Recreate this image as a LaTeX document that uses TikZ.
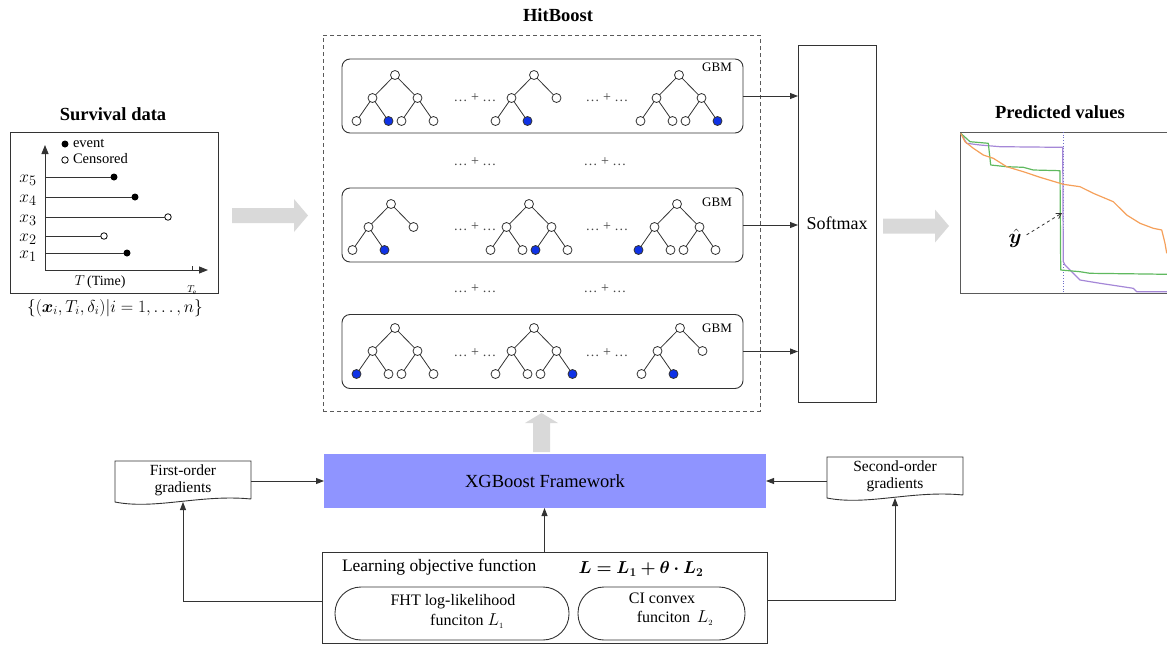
\documentclass[tikz,border=0pt]{standalone}
\usepackage{amsmath,bm}
\usepackage{fontspec}
\setmainfont{Liberation Serif}
\usetikzlibrary{arrows.meta,calc}

\definecolor{ln}{RGB}{51,51,51}
\definecolor{arrgray}{RGB}{217,217,217}
\definecolor{xgbblue}{RGB}{143,148,255}
\definecolor{leafblue}{RGB}{15,50,230}
\definecolor{dotgray}{RGB}{70,70,70}
\definecolor{dashgray}{RGB}{90,90,90}
\definecolor{corange}{RGB}{245,160,90}
\definecolor{cgreen}{RGB}{95,185,95}
\definecolor{cpurple}{RGB}{165,135,215}
\definecolor{vline}{RGB}{110,110,200}

\newcommand\fsz[2]{\fontsize{#1}{#2}\selectfont}

\tikzset{
  every node/.style={inner sep=0pt, outer sep=0pt},
  tn/.style={circle, draw=ln, line width=0.8pt, fill=white, minimum size=9pt},
  tb/.style={tn, fill=leafblue},
  tl/.style={draw=ln, line width=0.8pt},
  plain/.style={draw=ln, line width=0.9pt},
  arr/.style={draw=ln, line width=0.9pt, -{Triangle[length=8pt,width=6pt]}},
  gbmbox/.style={plain, rounded corners=8pt, minimum width=401pt, minimum height=74pt},
  gbmlabel/.style={font=\fsz{13}{15}},
  dots/.style={text=dotgray, font=\fsz{14}{16}},
  title/.style={font=\bfseries\fsz{18.5}{22}},
  evt/.style={circle, fill=black, minimum size=7pt},
  cen/.style={circle, draw=black, line width=0.8pt, fill=white, minimum size=6.5pt},
  doc/.style={minimum width=136pt, minimum height=38pt, align=center, font=\fsz{15.5}{17}},
  pill/.style={plain, rounded corners=26pt, minimum height=53pt},
  curve/.style={line width=1.2pt, line join=round},
}

% a leaf: name, x, y, position index, index of the highlighted leaf
\newcommand\leaf[5]{\ifnum#4=#5\relax\node[tb] (#1) at (#2,#3) {};\else\node[tn] (#1) at (#2,#3) {};\fi}

% a small regression tree: prefix, root x, root y, full (1) or left-only (0), highlighted leaf
\newcommand\gbmtree[5]{%
  \node[tn] (#1r) at (#2,#3) {};
  \node[tn] (#1a) at (#2-22.5,#3+23) {};
  \node[tn] (#1b) at (#2+22.5,#3+23) {};
  \leaf{#1l1}{#2-38.5}{#3+46}{1}{#5}
  \leaf{#1l2}{#2-6.5}{#3+46}{2}{#5}
  \draw[tl] (#1r)--(#1a) (#1r)--(#1b) (#1a)--(#1l1) (#1a)--(#1l2);
  \ifnum#4=1\relax
    \leaf{#1l3}{#2+6.5}{#3+46}{3}{#5}
    \leaf{#1l4}{#2+38.5}{#3+46}{4}{#5}
    \draw[tl] (#1b)--(#1l3) (#1b)--(#1l4);
  \fi
}

\begin{document}
\begin{tikzpicture}[x=1pt,y=-1pt]
\useasboundingbox (0,0) rectangle (1167,651);

% ---------------- survival data ----------------
\node[title] (survtitle) at (113,114) {Survival data};
\node[plain, minimum width=208pt, minimum height=161pt] (survbox) at (114,212.5) {};
\coordinate (orig) at (45,270);
\coordinate (ytop) at (45,145);
\coordinate (xend) at (208,270);
\draw[draw=ln, line width=0.9pt, -{Triangle[length=9pt,width=7pt]}] (orig) -- (ytop);
\draw[draw=ln, line width=0.9pt, -{Triangle[length=9pt,width=7pt]}] (orig) -- (xend);
\draw[draw=ln, line width=0.8pt] (192,270) -- (192,265.5);

\node[evt] (legev) at (65,144) {};
\node[anchor=west, font=\fsz{14.5}{17}] (legevt) at (73,143) {event};
\node[cen] (legce) at (65,160) {};
\node[anchor=west, font=\fsz{14.5}{17}] (legcet) at (73,159) {Censored};

\node[evt] (e5) at (114,177) {};
\node[evt] (e4) at (135,197) {};
\node[cen] (e3) at (168,217) {};
\node[cen] (e2) at (104,236) {};
\node[evt] (e1) at (127,253) {};
\foreach \i/\yy in {5/177,4/197,3/217,2/236,1/253}{
  \coordinate (s\i) at (45,\yy);
  \draw[draw=ln, line width=0.9pt] (s\i) -- (e\i);
  \node[font=\fsz{19}{22}] (xl\i) at (28,\yy+3) {$x_{\i}$};
}
\node[font=\fsz{14}{16}] (tlab) at (100,282) {$T$\,(Time)};
\node[font=\fsz{10}{12}] (telab) at (192,290) {$T_{\mathrm{e}}$};
\node[font=\fsz{16.5}{20}] (setlab) at (115,308) {$\{(\bm{x}_i,T_i,\delta_i)|i=1,\ldots,n\}$};

% big grey arrow into the model
\fill[arrgray] (232,208) -- (294,208) -- (294,199) -- (308,215.5) -- (294,232) -- (294,223) -- (232,223) -- cycle;

% ---------------- HitBoost ----------------
\node[title] (hittitle) at (558,15) {HitBoost};
\node[draw=dashgray, line width=0.9pt, dash pattern=on 4pt off 3pt,
      minimum width=437pt, minimum height=376pt] (hitbox) at (541.5,223) {};

\node[gbmbox] (gbm1) at (542.5,96) {};
\node[gbmbox] (gbm2) at (542.5,225) {};
\node[gbmbox] (gbm3) at (542.5,351.5) {};
\node[gbmlabel] (g1) at (717,67) {GBM};
\node[gbmlabel] (g2) at (717,202) {GBM};
\node[gbmlabel] (g3) at (717,328) {GBM};

% row 1
\gbmtree{pa}{395}{75}{1}{2}
\gbmtree{pb}{534}{75}{0}{2}
\gbmtree{pc}{679}{75}{1}{4}
% row 2
\gbmtree{qa}{391}{204}{0}{2}
\gbmtree{qb}{529}{204}{1}{3}
\gbmtree{qc}{677}{204}{1}{1}
% row 3
\gbmtree{ra}{395}{328}{1}{1}
\gbmtree{rb}{534}{328}{1}{4}
\gbmtree{rc}{680}{328}{0}{2}

\foreach \xx/\yy [count=\k] in {475/98,607/98,475/162,605/162,475/227,607/227,475/289,605/289,475/353,607/353}{
  \node[dots] (dd\k) at (\xx,\yy) {\ldots\ + \ldots};
}

% softmax
\node[plain, minimum width=78pt, minimum height=357pt, font=\fsz{18}{21}] (softmax) at (837,223.5) {Softmax};
\draw[arr] (gbm1.east) -- (gbm1.east -| softmax.west);
\draw[arr] (gbm2.east) -- (gbm2.east -| softmax.west);
\draw[arr] (gbm3.east) -- (gbm3.east -| softmax.west);

\fill[arrgray] (883,218.5) -- (935,218.5) -- (935,209.5) -- (949,226) -- (935,242.5) -- (935,233.5) -- (883,233.5) -- cycle;

% ---------------- predicted values ----------------
\node[title] (predtitle) at (1060,112) {Predicted values};
\draw[draw=dashgray, line width=1pt] (1167,132) -- (960,132) -- (960,293) -- (1167,293);
\draw[draw=vline, dotted, line width=0.7pt] (1063,132) -- (1063,293);
\draw[curve, cpurple] (960.7,133.3) -- (966.7,143.3) -- (980,145) -- (1000,146.7) -- (1060,147.3) -- (1062.7,147.3)
  -- (1063.3,261.7) -- (1065,265) -- (1080,280) -- (1100,283.3) -- (1133.3,288.3) -- (1136.7,291.7) -- (1167,291.7);
\draw[curve, cgreen] (960.7,133.3) -- (970,141.7) -- (988.3,143.3) -- (990.7,165) -- (1006.7,166.7) -- (1023.3,167.3)
  -- (1033.3,170) -- (1060,170.7) -- (1060.7,270) -- (1080,271.7) -- (1090,273.3) -- (1146.7,274) -- (1167,274.3);
\draw[curve, corange] (960.7,133.3) -- (965,141.7) -- (973.3,148.3) -- (983.3,155) -- (993.3,158.3) -- (1006.7,166.7)
  -- (1023.3,171.7) -- (1040,177.3) -- (1060,183.3) -- (1063.3,184.3) -- (1080,186.7) -- (1093.3,193.3)
  -- (1113.3,201.7) -- (1126.7,215) -- (1140,223.3) -- (1153.3,228.3) -- (1161.7,230) -- (1165,243.3) -- (1166.7,253.3);
\node[font=\fsz{21}{24}] (yhat) at (1015,238) {$\hat{\bm{y}}$};
\coordinate (yhtip) at (1062,213);
\draw[draw=ln, dashed, line width=0.8pt, shorten <=6pt, -{Straight Barb[length=5pt,width=6pt]}] (yhat.east) -- (yhtip);

% ---------------- training part ----------------
\fill[arrgray] (533,452) -- (533,423) -- (525,423) -- (541.5,413) -- (558,423) -- (550,423) -- (550,452) -- cycle;

\node[fill=xgbblue, minimum width=442pt, minimum height=54pt, font=\fsz{18.5}{22}] (xgb) at (545,481) {XGBoost Framework};

\node[doc] (first) at (183,480) {First-order\\gradients};
\draw[plain] (first.south east) -- (first.north east) -- (first.north west) -- ($(first.south west)+(0,3)$)
  .. controls +(40,8) and +(-50,-5) .. (first.south east);
\node[doc] (second) at (895,476) {Second-order\\gradients};
\draw[plain] (second.south east) -- (second.north east) -- (second.north west) -- ($(second.south west)+(0,3)$)
  .. controls +(40,8) and +(-50,-5) .. (second.south east);

\draw[arr] (first.east |- xgb) -- (xgb.west);
\draw[arr] (second.west |- xgb) -- (xgb.east);

\node[plain, minimum width=445pt, minimum height=91pt] (learn) at (544.5,597.5) {};
\node[anchor=west, font=\fsz{17.5}{20}] (learnt) at (342,567) {Learning objective function};
\node[font=\fsz{17}{20}] (lossf) at (641,569) {$\bm{L = L_1 + \theta\cdot L_2}$};
\node[pill, minimum width=234pt] (fht) at (452,613.5) {};
\node[pill, minimum width=167pt] (ci) at (661.5,613.5) {};
\node[font=\fsz{16}{19}] (fht1) at (453,602) {FHT log-likelihood};
\node[font=\fsz{16}{19}] (fht2) at (467,621) {funciton $L_{\scriptscriptstyle 1}$};
\node[font=\fsz{16}{19}] (ci1) at (662,598) {CI convex};
\node[font=\fsz{16}{19}] (ci2) at (675,618) {funciton\, $L_{\scriptscriptstyle 2}$};

\draw[arr] (learn.north) -- (learn.north |- xgb.south);
\draw[arr] ($(learn.west)+(0,4)$) -| ($(first.south)+(0,3)$);
\draw[arr] ($(learn.east)+(0,3)$) -| ($(second.south)+(0,3)$);
\end{tikzpicture}
\end{document}
